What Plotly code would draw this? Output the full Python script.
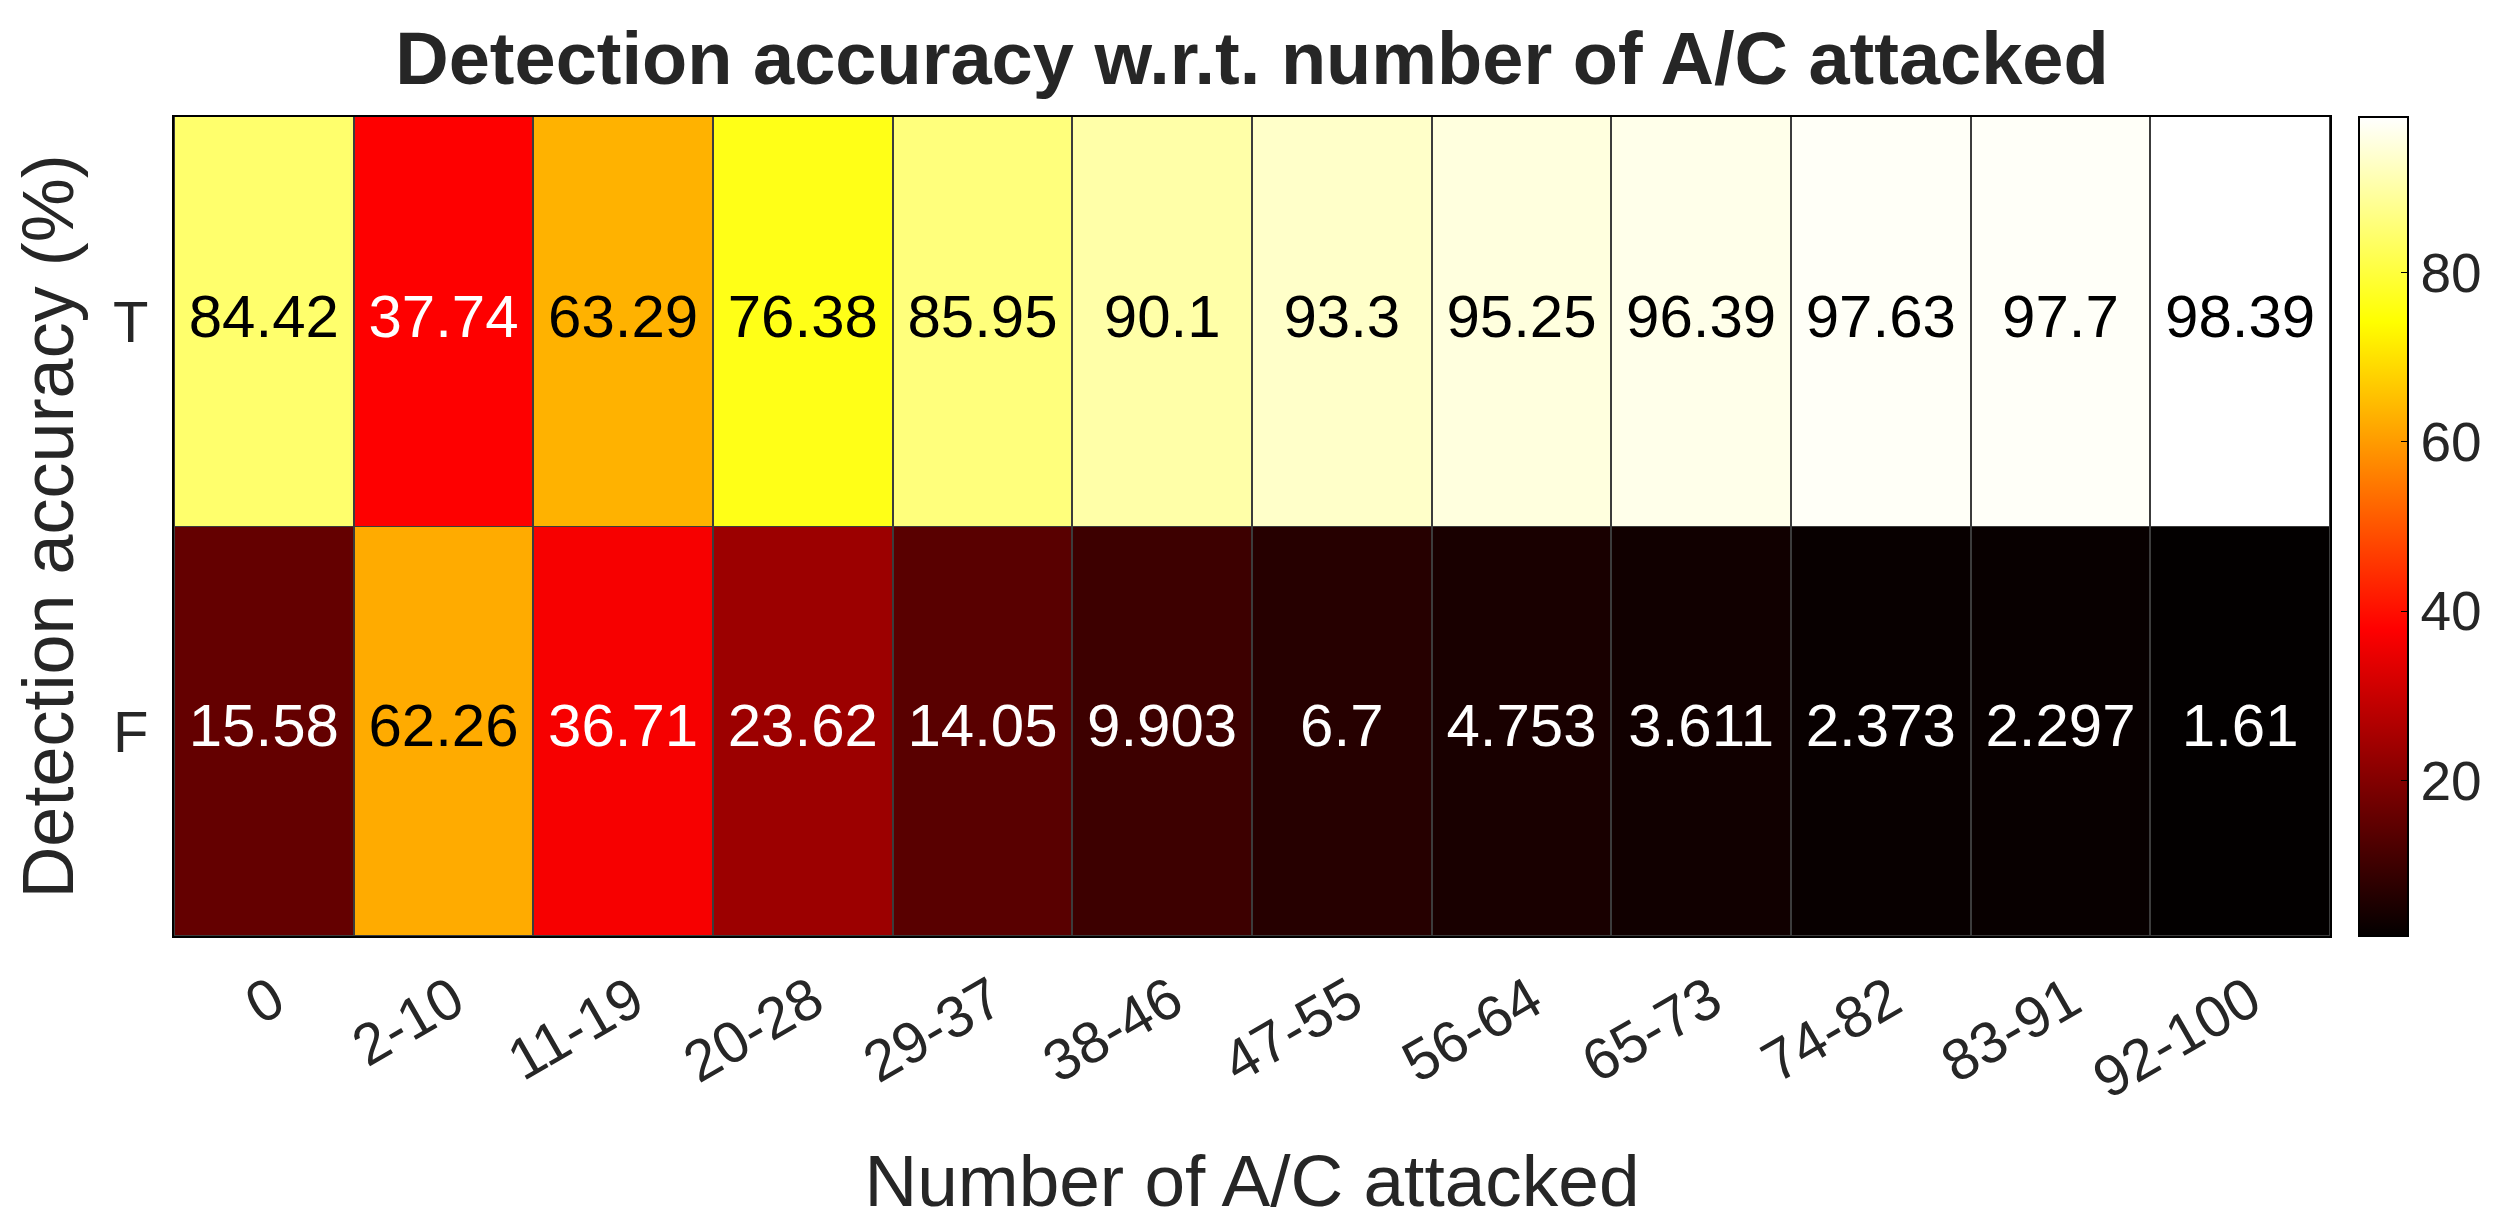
import plotly.graph_objects as go

# ---------------- data ----------------
categories = ["0", "2-10", "11-19", "20-28", "29-37", "38-46", "47-55",
              "56-64", "65-73", "74-82", "83-91", "92-100"]
row_labels = ["T", "F"]
true_values = [84.42, 37.74, 63.29, 76.38, 85.95, 90.1, 93.3, 95.25, 96.39, 97.63, 97.7, 98.39]
false_values = [15.58, 62.26, 36.71, 23.62, 14.05, 9.903, 6.7, 4.753, 3.611, 2.373, 2.297, 1.61]
colorbar_ticks = [20, 40, 60, 80]

title_text = "Detection accuracy w.r.t. number of A/C attacked"
x_title = "Number of A/C attacked"
y_title = "Detection accuracy (%)"

# ---------------- styling ----------------
FONT = "Liberation Sans, Arial, Helvetica, sans-serif"
TXT = "#262626"
# MATLAB 'hot' colormap
hot_stops = [(0.0, (3, 0, 0)), (0.375, (255, 0, 0)), (0.75, (255, 255, 0)), (1.0, (255, 255, 255))]
hot_scale = [[p, f"rgb{c}"] for p, c in hot_stops]

z = [true_values, false_values]
zmin = min(min(r) for r in z)
zmax = max(max(r) for r in z)


def cmap(v):
    t = (v - zmin) / (zmax - zmin)
    for (p0, c0), (p1, c1) in zip(hot_stops[:-1], hot_stops[1:]):
        if t <= p1:
            f = 0 if p1 == p0 else (t - p0) / (p1 - p0)
            return tuple(c0[i] + f * (c1[i] - c0[i]) for i in range(3))
    return hot_stops[-1][1]


def text_color(v):
    r, g, b = cmap(v)
    lum = (0.2126 * r + 0.7152 * g + 0.0722 * b) / 255
    return "black" if lum > 0.4 else "white"


cell_x, cell_y, cell_text, cell_color = [], [], [], []
for lab, row in zip(row_labels, z):
    for cat, v in zip(categories, row):
        cell_x.append(cat)
        cell_y.append(lab)
        cell_text.append(f"{v:.4g}")
        cell_color.append(text_color(v))

fig = go.Figure()
fig.add_trace(go.Heatmap(
    z=z, x=categories, y=row_labels,
    colorscale=hot_scale, zmin=zmin, zmax=zmax,
    xgap=2, ygap=1,
    hoverinfo="skip",
    colorbar=dict(
        thickness=49, thicknessmode="pixels",
        len=1, lenmode="fraction", y=0.5, yanchor="middle", ypad=0,
        x=1.0135, xanchor="left", xpad=0,
        outlinecolor="black", outlinewidth=2,
        tickvals=colorbar_ticks, ticks="inside", ticklen=8, tickcolor="black",
        tickprefix=" ",
        tickfont=dict(family=FONT, size=55, color=TXT),
    ),
))
fig.add_trace(go.Scatter(
    x=cell_x, y=cell_y, mode="text", text=cell_text,
    textfont=dict(family=FONT, size=60, color=cell_color),
    hoverinfo="skip", showlegend=False,
))

fig.update_layout(
    width=2514, height=1230,
    margin=dict(l=166, r=192, t=109, b=302),
    paper_bgcolor="white", plot_bgcolor="#3c3c3c",
    font=dict(family=FONT, color=TXT),
    title=dict(text=f"<b>{title_text}</b>", x=0.5, xref="paper", xanchor="center",
               y=1 - 50 / 1230, yref="container", yanchor="middle",
               font=dict(family=FONT, size=74, color=TXT)),
    showlegend=False,
)
fig.update_xaxes(
    type="category", range=[-0.5, len(categories) - 0.5],
    showline=True, mirror=True, linecolor="black", linewidth=2,
    showgrid=False, zeroline=False, ticks="", tickangle=-30,
    tickfont=dict(family=FONT, size=58, color=TXT), ticklabelstandoff=6,
    ticklabelshift=10,
    title=dict(text=x_title, font=dict(family=FONT, size=73, color=TXT), standoff=45),
)
fig.update_yaxes(
    type="category", range=[len(row_labels) - 0.5, -0.5], showline=True, mirror=True,
    linecolor="black", linewidth=2, showgrid=False, zeroline=False, ticks="",
    tickfont=dict(family=FONT, size=58, color=TXT), ticklabelstandoff=12,
    title=dict(text=y_title, font=dict(family=FONT, size=72, color=TXT), standoff=32),
)

fig.write_html("out.html")
